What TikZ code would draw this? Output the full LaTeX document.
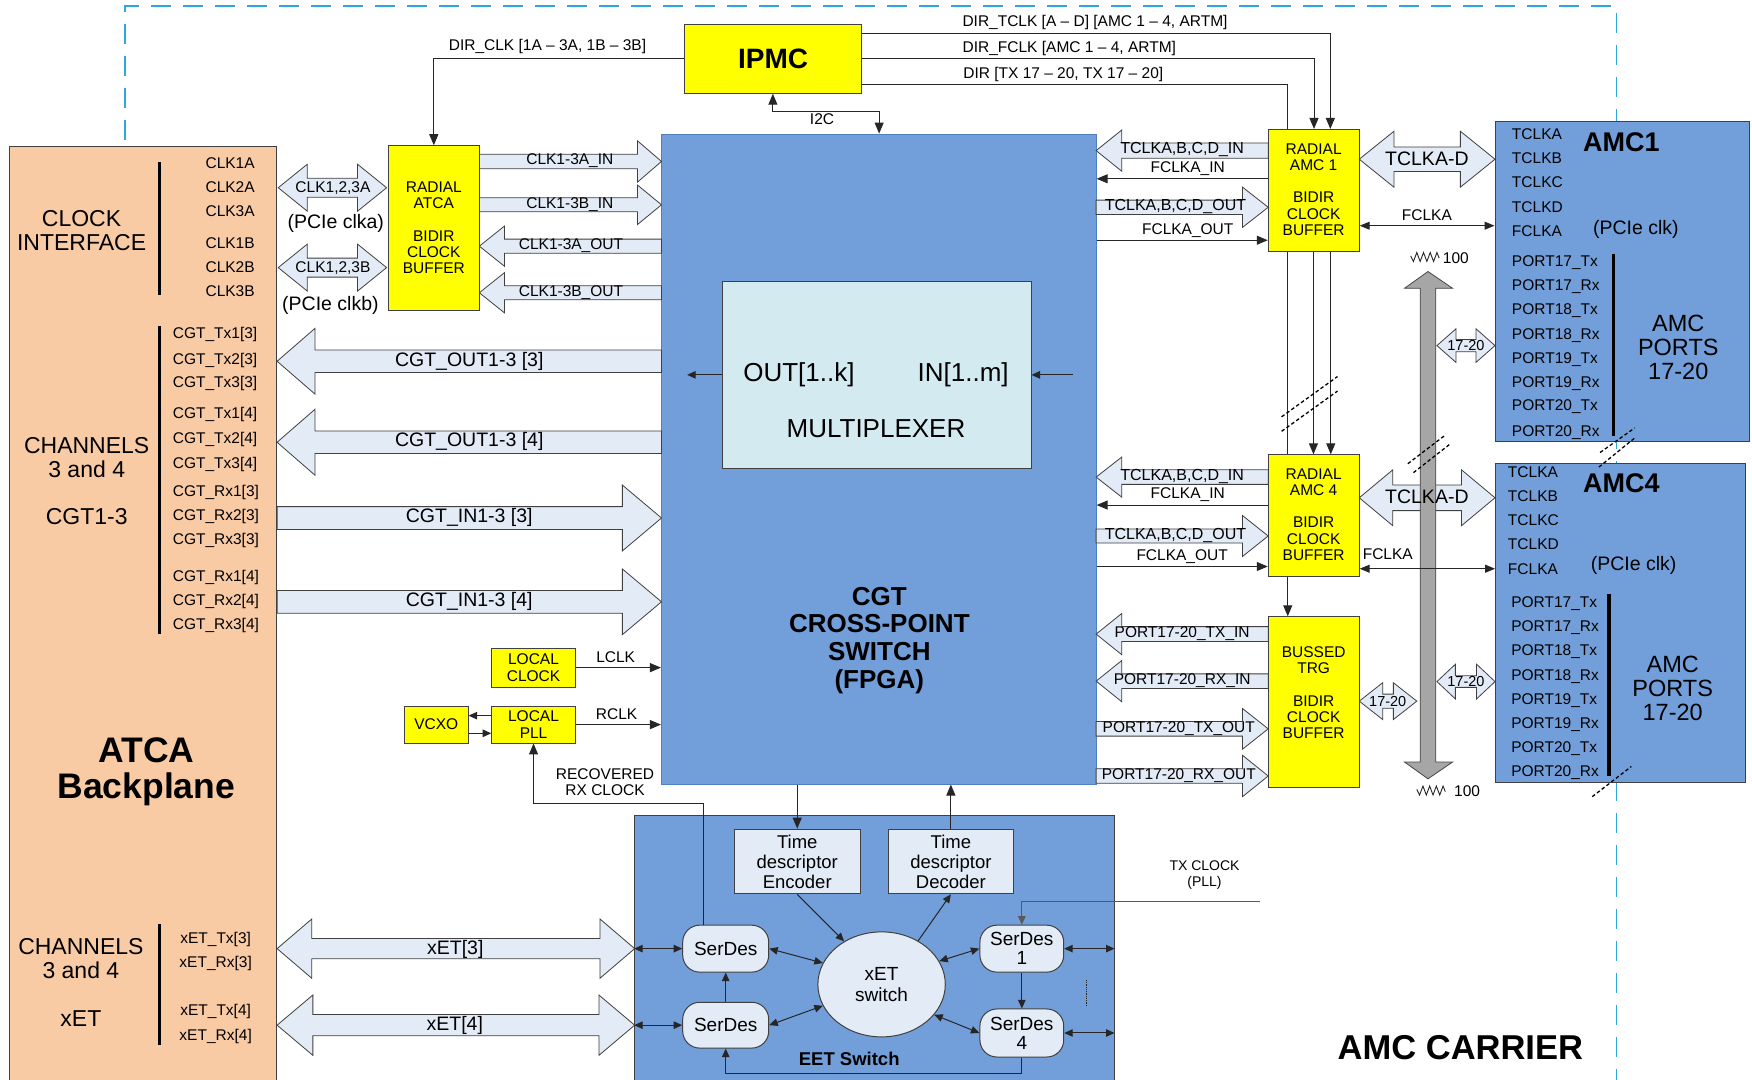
\documentclass[tikz,border=0pt]{standalone}
\usepackage{fontspec}
\setmainfont{Liberation Sans}
\usetikzlibrary{arrows.meta,shapes.geometric}
\definecolor{atca}{HTML}{F9CBA5}
\definecolor{ylw}{HTML}{FFFF00}
\definecolor{fpgab}{HTML}{729FDA}
\definecolor{fpgae}{HTML}{4F7FBF}
\definecolor{lblue}{HTML}{E3EBF6}
\definecolor{muxc}{HTML}{D3EAF0}
\definecolor{busc}{HTML}{A6A6A6}
\definecolor{dashc}{HTML}{2EA6DE}
\definecolor{edgec}{HTML}{404040}
\definecolor{linec}{HTML}{262626}
\newcommand\fsz[2]{\fontsize{#1}{#2}\selectfont}
\newcommand\bx[7]{\node[#6,minimum width={(#4-#2)*1.1173pt},minimum height={(#5-#3)*1.1173pt}] (#1) at ({(#2+#4)/2},{(#3+#5)/2}) {#7};}
% right block arrow: x1 tail, x2 tip, yc, shaft half, head half, head length
\newcommand\RA[6]{\filldraw[blk] (#1,{#3-#4}) -- ({#2-#6},{#3-#4}) -- ({#2-#6},{#3-#5}) -- (#2,#3) -- ({#2-#6},{#3+#5}) -- ({#2-#6},{#3+#4}) -- (#1,{#3+#4}) -- cycle;}
% left block arrow: x1 tip, x2 tail
\newcommand\LA[6]{\filldraw[blk] (#1,#3) -- ({#1+#6},{#3-#5}) -- ({#1+#6},{#3-#4}) -- (#2,{#3-#4}) -- (#2,{#3+#4}) -- ({#1+#6},{#3+#4}) -- ({#1+#6},{#3+#5}) -- cycle;}
% double block arrow
\newcommand\DA[6]{\filldraw[blk] (#1,#3) -- ({#1+#6},{#3-#5}) -- ({#1+#6},{#3-#4}) -- ({#2-#6},{#3-#4}) -- ({#2-#6},{#3-#5}) -- (#2,#3) -- ({#2-#6},{#3+#5}) -- ({#2-#6},{#3+#4}) -- ({#1+#6},{#3+#4}) -- ({#1+#6},{#3+#5}) -- cycle;}
\tikzset{
 ybox/.style={draw=edgec, fill=ylw, line width=0.9pt, inner sep=0pt, align=center, font=\fsz{15.5}{16.2}},
 blk/.style={fill=lblue, draw=edgec, line width=0.8pt},
 conn/.style={draw=linec, line width=1pt, -{Triangle[length=11pt,width=9pt]}},
 plain/.style={draw=linec, line width=1pt},
 dconn/.style={draw=linec, line width=1pt, {Triangle[length=10pt,width=8pt]}-{Triangle[length=10pt,width=8pt]}},
 sconn/.style={draw=linec, line width=1pt, -{Triangle[length=8.5pt,width=7.5pt]}},
 sdconn/.style={draw=linec, line width=1pt, {Triangle[length=8.5pt,width=7.5pt]}-{Triangle[length=8.5pt,width=7.5pt]}},
 lab/.style={inner sep=0pt, font=\fsz{15.5}{16}},
 alab/.style={inner sep=0pt, font=\fsz{15.5}{16}},
 mlab/.style={inner sep=0pt, font=\fsz{19.5}{21}},
 bigt/.style={inner sep=0pt, align=center, font=\fsz{23}{24}},
 bar/.style={line width=3.3pt, black},
 slash/.style={black, line width=1.3pt, dash pattern=on 3.5pt off 2.5pt},
 sd/.style={draw=edgec, fill=lblue, rounded corners=17pt, line width=1pt, inner sep=0pt, align=center, font=\fsz{19}{19}},
 bluebox/.style={draw=edgec, fill=fpgab, line width=1pt, inner sep=0pt},
}
\begin{document}
\begin{tikzpicture}[x=1.1173pt,y=-1.1173pt]
\useasboundingbox (0,0) rectangle (1568,966);
\clip (0,0) rectangle (1568,966);
\fill[white] (0,0) rectangle (1568,966);
% carrier border
\draw[dashc, line width=1.4pt, dash pattern=on 20pt off 12pt] (111.9,125) -- (111.9,5.4) -- (1446.8,5.4) -- (1446.8,980);

% ===== ATCA backplane =====
\bx{atcab}{8.8}{131.3}{247}{990}{draw=edgec, fill=atca, line width=0.9pt}{}
\node[bigt] (ci) at (73,206.2) {CLOCK\\INTERFACE};
\draw[bar] (142.5,145) -- (142.5,264);
\foreach \t/\y [count=\i] in {CLK1A/146.2,CLK2A/167.7,CLK3A/188.9,CLK1B/217.8,CLK2B/239.3,CLK3B/261}
  \node[lab,anchor=west] (clk\i) at (183.8,\y) {\t};
\node[bigt] (ch1) at (77.6,409.8) {CHANNELS\\3 and 4};
\node[bigt] (cgt13) at (77.6,462.4) {CGT1-3};
\draw[bar] (142.8,291.8) -- (142.8,567.4);
\foreach \t/\y [count=\i] in {CGT\_Tx1[3]/299.8,CGT\_Tx2[3]/322.2,CGT\_Tx3[3]/343,CGT\_Tx1[4]/371.4,CGT\_Tx2[4]/393.2,CGT\_Tx3[4]/415.3,CGT\_Rx1[3]/441,CGT\_Rx2[3]/462.4,CGT\_Rx3[3]/483.9,CGT\_Rx1[4]/517,CGT\_Rx2[4]/538.5,CGT\_Rx3[4]/559.7}
  \node[lab,anchor=west] (cgtl\i) at (154.5,\y) {\t};
\node[inner sep=0pt, align=center, font=\bfseries\fsz{35.5}{36}] (atcat) at (131,691) {ATCA\\Backplane};
\node[bigt] (ch2) at (72.4,857.7) {CHANNELS\\3 and 4};
\node[bigt] (xetl) at (72.4,911.4) {xET};
\draw[bar] (142.9,827) -- (142.9,935.3);
\foreach \t/\y [count=\i] in {xET\_Tx[3]/840.7,xET\_Rx[3]/862.2,xET\_Tx[4]/905.5,xET\_Rx[4]/927.3}
  \node[lab] (xetp\i) at (193,\y) {\t};

% ===== FPGA =====
\bx{fpga}{592}{120}{981}{701.7}{draw=fpgae, fill=fpgab, line width=1pt}{}
\node[inner sep=0pt, align=center, font=\bfseries\fsz{26}{27.6}] (fpgat) at (787,573) {CGT\\CROSS-POINT\\SWITCH\\(FPGA)};
\bx{mux}{646.5}{252}{922.8}{419}{draw=edgec, fill=muxc, line width=0.8pt}{}
\node[inner sep=0pt, font=\fsz{26}{28}] (outk) at (715,335.5) {OUT[1..k]};
\node[inner sep=0pt, font=\fsz{26}{28}] (inm) at (862,335.5) {IN[1..m]};
\node[inner sep=0pt, font=\fsz{26}{28}] (muxt) at (784,384) {MULTIPLEXER};
\coordinate (mo) at (615,335.5);
\coordinate (mi) at (960,335.5);
\draw[sconn] (mux.west) -- (mo);
\draw[sconn] (mi) -- (mux.east);

% ===== IPMC =====
\bx{ipmc}{613}{21.5}{771}{83.5}{ybox, font=\bfseries\fsz{28}{30}}{IPMC}
\node[alab] (dirclk) at (490,41.8) {DIR\_CLK [1A -- 3A, 1B -- 3B]};
\node[alab] (dirtclk) at (980,20.3) {DIR\_TCLK [A -- D] [AMC 1 -- 4, ARTM]};
\node[alab] (dirfclk) at (957,43) {DIR\_FCLK [AMC 1 -- 4, ARTM]};
\node[alab] (dirtx) at (951.6,66.5) {DIR [TX 17 -- 20, TX 17 -- 20]};
\coordinate (i2c) at (739,100);
\node[alab] (i2cl) at (735.7,106.5) {I2C};

% ===== clock block arrows (left) =====
\DA{249}{346}{168}{8.5}{21}{26}
\node[alab] (c123a) at (298,168) {CLK1,2,3A};
\DA{249}{346}{239.5}{8.5}{21}{26}
\node[alab] (c123b) at (298,239.5) {CLK1,2,3B};
\node[mlab] (pcia) at (300.5,199.9) {(PCIe clka)};
\node[mlab] (pcib) at (295.7,273) {(PCIe clkb)};

\RA{429}{592}{144.5}{6.5}{18.5}{21.5}
\node[alab] (c3ain) at (510,144.2) {CLK1-3A\_IN};
\RA{429}{592}{183.3}{6.3}{17.7}{21.5}
\node[alab] (c3bin) at (510,183) {CLK1-3B\_IN};
\LA{429}{592}{220.3}{6.3}{18}{22.5}
\node[alab] (c3aout) at (511,220) {CLK1-3A\_OUT};
\LA{429}{592}{262}{6.3}{18}{22.5}
\node[alab] (c3bout) at (511,261.7) {CLK1-3B\_OUT};

% ===== CGT arrows =====
\LA{248}{592}{323.3}{10}{29.5}{34}
\node[mlab] (cgto3) at (420,323.7) {CGT\_OUT1-3 [3]};
\LA{248}{592}{395.8}{10}{29.6}{34}
\node[mlab] (cgto4) at (420,395.3) {CGT\_OUT1-3 [4]};
\RA{248}{592}{463.6}{10.2}{29.5}{35}
\node[mlab] (cgti3) at (420,463) {CGT\_IN1-3 [3]};
\RA{248}{592}{538.6}{10.2}{29.4}{35}
\node[mlab] (cgti4) at (420,538.3) {CGT\_IN1-3 [4]};

% ===== AMC-side block arrows =====
\LA{981}{1135}{134.8}{6.8}{18.5}{23}
\node[alab, font=\fsz{16}{16}] (t1in) at (1058,134) {TCLKA,B,C,D\_IN};
\RA{981}{1135}{185.5}{6.4}{18}{23}
\node[alab, font=\fsz{16}{16}] (t1out) at (1052,185) {TCLKA,B,C,D\_OUT};
\LA{981}{1135}{427}{6.5}{18}{23}
\node[alab, font=\fsz{16}{16}] (t4in) at (1058,426.5) {TCLKA,B,C,D\_IN};
\RA{981}{1135}{479.7}{6.3}{18.3}{23}
\node[alab, font=\fsz{16}{16}] (t4out) at (1052,479.2) {TCLKA,B,C,D\_OUT};
\LA{981}{1135}{567.5}{6.7}{18.5}{23}
\node[alab] (ptxin) at (1058,567) {PORT17-20\_TX\_IN};
\LA{981}{1135}{609.6}{6.5}{18.5}{23}
\node[alab] (prxin) at (1058,609) {PORT17-20\_RX\_IN};
\RA{981}{1135}{652.3}{6.5}{18.2}{23}
\node[alab] (ptxout) at (1055,652) {PORT17-20\_TX\_OUT};
\RA{981}{1135}{694.5}{6.5}{18.5}{23}
\node[alab] (prxout) at (1055,694) {PORT17-20\_RX\_OUT};

% ===== yellow buffers =====
\bx{ratca}{347.5}{130.4}{429}{277.5}{ybox}{RADIAL\\ATCA\\[16pt]BIDIR\\CLOCK\\BUFFER}
\bx{ramc1}{1135}{115.8}{1216.5}{224.7}{ybox}{}
\node[ybox, draw=none, fill=none] (ramc1t) at (1175.7,169.8) {RADIAL\\AMC 1\\[16pt]BIDIR\\CLOCK\\BUFFER};
\bx{ramc4}{1135}{407}{1216.5}{516}{ybox}{}
\node[ybox, draw=none, fill=none] (ramc4t) at (1175.7,460.5) {RADIAL\\AMC 4\\[16pt]BIDIR\\CLOCK\\BUFFER};
\bx{btrg}{1135}{552}{1216.5}{705}{ybox}{}
\node[ybox, draw=none, fill=none] (btrgt) at (1175.7,620) {BUSSED\\TRG\\[16pt]BIDIR\\CLOCK\\BUFFER};

% IPMC connections
\draw[conn] (ipmc.west) -| (ratca.north);
\draw[conn] (ipmc.east |- 0,29.8) -| (ramc1.north -| 1190.6,0);
\draw[conn] (ipmc.east |- 0,52.2) -| (ramc1.north -| 1176,0);
\draw[conn] (i2c) -| (ipmc.south -| 691.7,0);
\draw[conn] (i2c) -| (fpga.north -| 786.8,0);
% DIR line passing behind the AMC buffers down to the bussed buffer
\draw[plain] (ipmc.east |- 0,75.5) -| (ramc1.north -| 1152.5,0);
\draw[plain] (ramc1.south -| 1152.5,0) -- (ramc4.north -| 1152.5,0);
\draw[conn] (ramc4.south -| 1152.5,0) -- (btrg.north -| 1152.5,0);
\draw[conn] (ramc1.south -| 1175.5,0) -- (ramc4.north -| 1175.5,0);
\draw[conn] (ramc1.south -| 1191,0) -- (ramc4.north -| 1191,0);

% FCLKA thin arrows
\draw[conn] (ramc1.west |- 0,160) -- (fpga.east |- 0,160);
\node[alab] (f1in) at (1063,151) {FCLKA\_IN};
\draw[conn] (fpga.east |- 0,215) -- (ramc1.west |- 0,215);
\node[alab] (f1out) at (1063,206) {FCLKA\_OUT};
\draw[conn] (ramc4.west |- 0,452) -- (fpga.east |- 0,452);
\node[alab] (f4in) at (1063,443) {FCLKA\_IN};
\draw[conn] (fpga.east |- 0,507) -- (ramc4.west |- 0,507);
\node[alab] (f4out) at (1058,498) {FCLKA\_OUT};

% local clocks
\bx{lclk}{440}{580}{515}{615}{ybox}{LOCAL\\CLOCK}
\bx{lpll}{440}{632}{515}{665}{ybox}{LOCAL\\PLL}
\bx{vcxo}{362}{632}{419}{665}{ybox}{VCXO}
\draw[conn] (lclk.east) -- (lclk.east -| fpga.west);
\node[alab] (lclkl) at (551,588.3) {LCLK};
\draw[conn] (lpll.east) -- (lpll.east -| fpga.west);
\node[alab] (rclkl) at (551.8,639.3) {RCLK};
\draw[sconn] (lpll.west |- 0,640.5) -- (vcxo.east |- 0,640.5);
\draw[sconn] (vcxo.east |- 0,656.3) -- (lpll.west |- 0,656.3);
\node[alab, align=center, font=\fsz{15.5}{15.6}] (recl) at (541.5,700) {RECOVERED\\RX CLOCK};

% ===== AMC boxes =====
\bx{amc1}{1338}{109}{1566}{395}{bluebox}{}
\bx{amc4}{1338.5}{415}{1562}{700}{bluebox}{}
\foreach \t/\y [count=\i] in {TCLKA/120,TCLKB/141.7,TCLKC/163,TCLKD/185,FCLKA/206.7}
  \node[lab,anchor=west] (a1c\i) at (1353,\y) {\t};
\foreach \t/\y [count=\i] in {PORT17\_Tx/234.7,PORT17\_Rx/256.6,PORT18\_Tx/278.4,PORT18\_Rx/300.4,PORT19\_Tx/321.6,PORT19\_Rx/343,PORT20\_Tx/364.3,PORT20\_Rx/387}
  \node[lab,anchor=west] (a1p\i) at (1353,\y) {\t};
\draw[bar] (1444.3,227.3) -- (1444.3,390);
\node[inner sep=0pt, font=\bfseries\fsz{27}{28}] (amc1t) at (1451,127.4) {AMC1};
\node[mlab] (pc1) at (1464,205) {(PCIe clk)};
\node[bigt, font=\fsz{23.5}{24}] (ap1) at (1502,310.5) {AMC\\PORTS\\17-20};
\foreach \t/\y [count=\i] in {TCLKA/423,TCLKB/444.5,TCLKC/465.4,TCLKD/487.2,FCLKA/509.5}
  \node[lab,anchor=west] (a4c\i) at (1349.4,\y) {\t};
\foreach \t/\y [count=\i] in {PORT17\_Tx/540,PORT17\_Rx/561.5,PORT18\_Tx/583,PORT18\_Rx/605.6,PORT19\_Tx/627,PORT19\_Rx/648.3,PORT20\_Tx/669.8,PORT20\_Rx/691.2}
  \node[lab,anchor=west] (a4p\i) at (1352.4,\y) {\t};
\draw[bar] (1440,531.6) -- (1440,694.3);
\node[inner sep=0pt, font=\bfseries\fsz{27}{28}] (amc4t) at (1451,432.5) {AMC4};
\node[mlab] (pc4) at (1462,505.7) {(PCIe clk)};
\node[bigt, font=\fsz{23.5}{24}] (ap4) at (1497,615.8) {AMC\\PORTS\\17-20};

% TCLKA-D double arrows
\DA{1216.5}{1338}{142.5}{11}{25}{31}
\DA{1216.5}{1338}{445.5}{11.5}{25}{30}
% gray bus
\filldraw[fill=busc, draw=gray!55!black, line width=0.8pt] (1278,243) -- (1300,258) -- (1285,258) -- (1285,682) -- (1300,682) -- (1278,697) -- (1257,682) -- (1271,682) -- (1271,258) -- (1257,258) -- cycle;
\node[mlab] (td1) at (1277,142) {TCLKA-D};
\node[mlab] (td4) at (1277,445) {TCLKA-D};
\draw[dconn] (ramc1.east |- 0,202) -- (amc1.west |- 0,202);
\node[alab] (fc1) at (1277,192.4) {FCLKA};
\draw[dconn] (ramc4.east |- 0,509) -- (amc4.west |- 0,509);
\node[alab] (fc4) at (1242,496) {FCLKA};
% 17-20 arrows
\DA{1286}{1338}{309.3}{5.5}{15}{17}
\node[lab, font=\fsz{14.5}{15}] (p1720a) at (1312,309) {17-20};
\DA{1286}{1338}{610}{5.2}{15.5}{16.5}
\node[lab, font=\fsz{14.5}{15}] (p1720b) at (1312,610) {17-20};
\DA{1216.5}{1268}{627.5}{6.3}{16.5}{21}
\node[lab, font=\fsz{14.5}{15}] (p1720c) at (1242,628) {17-20};
% resistors
\draw[linec, line width=0.9pt] (1262.5,229) -- (1265,234) -- (1268,226) -- (1271,234) -- (1274,226) -- (1277,234) -- (1280,226) -- (1283,234) -- (1286,226) -- (1288,231);
\node[lab] (r1) at (1303,231) {100};
\draw[linec, line width=0.9pt] (1268,706.5) -- (1270.5,711.5) -- (1273.5,703.5) -- (1276.5,711.5) -- (1279.5,703.5) -- (1282.5,711.5) -- (1285.5,703.5) -- (1288.5,711.5) -- (1291.5,703.5) -- (1293.5,708.5);
\node[lab] (r2) at (1313,708.5) {100};
% dashed slashes
\draw[slash] (1147,373) -- (1197,337);
\draw[slash] (1147,386) -- (1197,350);
\draw[slash] (1260,415) -- (1294,389);
\draw[slash] (1265,423) -- (1297,398);
\draw[slash] (1432,405) -- (1463,383);
\draw[slash] (1431,418) -- (1463,392);
\draw[slash] (1425,713) -- (1460,686);

% ===== xET arrows =====
\DA{248}{568}{849}{9}{26.5}{31}
\node[mlab] (xet3) at (407.5,849.4) {xET[3]};
\DA{248}{568}{917.5}{9.5}{27}{32}
\node[mlab] (xet4) at (407,917.5) {xET[4]};

% ===== EET switch =====
\bx{eet}{568}{730}{997}{990}{draw=edgec, fill=fpgab, line width=1pt}{}
\bx{enc}{657}{742}{770}{800}{draw=edgec, fill=lblue, line width=0.8pt, inner sep=0pt, align=center, font=\fsz{18.5}{20}}{Time\\descriptor\\Encoder}
\bx{dec}{795}{742}{907}{800}{draw=edgec, fill=lblue, line width=0.8pt, inner sep=0pt, align=center, font=\fsz{18.5}{20}}{Time\\descriptor\\Decoder}
\draw[conn] (fpga.south -| enc.north) -- (enc.north);
\draw[conn] (dec.north) -- (fpga.south -| dec.north);
\bx{sTL}{611}{828}{688}{870}{sd}{SerDes}
\bx{sBL}{611}{897}{688}{938}{sd}{SerDes}
\bx{s1}{877}{828}{952}{870}{sd}{SerDes\\1}
\bx{s4}{877}{903}{952}{946}{sd}{SerDes\\4}
\node[ellipse, draw=edgec, fill=lblue, line width=1pt, minimum width=127.4pt, minimum height=105pt, inner sep=0pt, align=center, font=\fsz{19}{20.5}] (xsw) at (789,881) {xET\\switch};
\draw[sdconn] (eet.west |- sTL) -- (sTL.west);
\draw[sdconn] (eet.west |- sBL) -- (sBL.west);
\draw[sdconn] (sTL.east) -- (xsw.160);
\draw[sdconn] (sBL.east) -- (xsw.200);
\draw[sconn] (enc.south) -- (xsw.131);
\draw[sconn] (xsw.50) -- (dec.south);
\draw[sdconn] (xsw.22) -- (s1.west);
\draw[sdconn] (xsw.-30) -- (s4.west);
\draw[sconn] (s1.south) -- (s4.north);
\draw[sconn] (sBL.north) -- (sTL.south);
\draw[sdconn] (s1.east) -- (s1.east -| eet.east);
\draw[sdconn] (s4.east) -- (s4.east -| eet.east);
\draw[linec, line width=0.8pt, densely dotted] (972.6,877) -- (972.6,901);
\draw[sconn] (s4.south) -- ++(0,14.6) -| (sBL.south);
\node[inner sep=0pt, font=\bfseries\fsz{18.5}{20}] (eetl) at (760,948) {EET Switch};
\draw[conn] (sTL.north -| 629.4,0) -- (629.4,719) -| (lpll.south);
\coordinate (txc) at (1127.5,807);
\draw[sconn, draw=gray!70!black] (txc) -| (s1.north);
\node[inner sep=0pt, align=center, font=\fsz{14}{15.6}] (txcl) at (1078,783) {TX CLOCK\\(PLL)};

\node[inner sep=0pt, font=\bfseries\fsz{34.5}{35}] (carrier) at (1307,938) {AMC CARRIER};
\end{tikzpicture}
\end{document}
